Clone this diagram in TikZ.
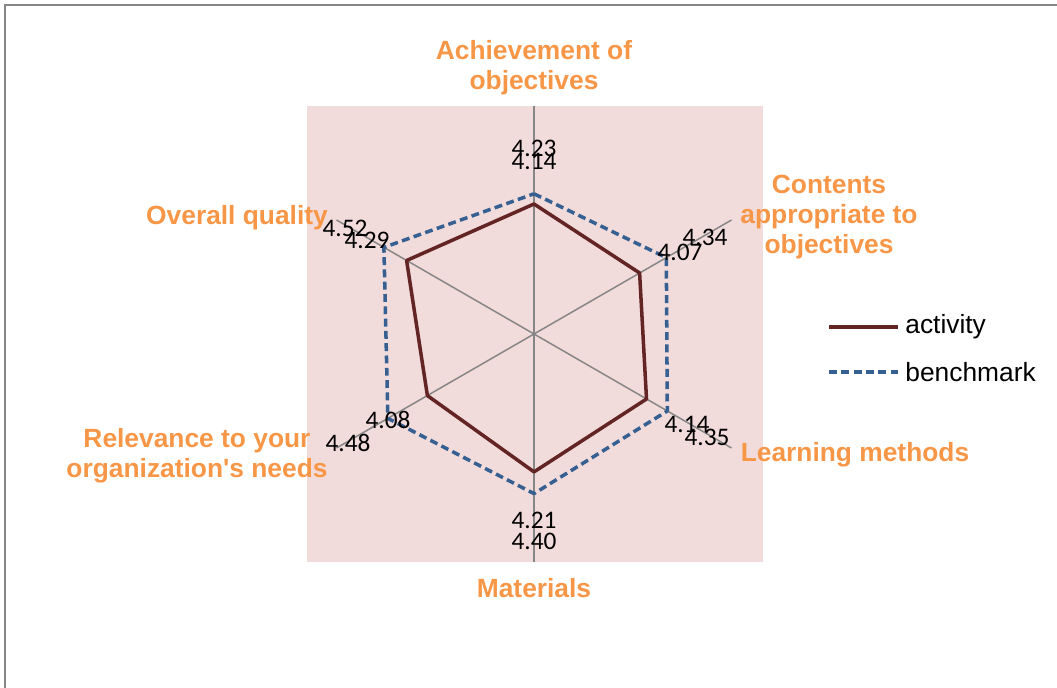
\documentclass[tikz,border=0pt]{standalone}
\usepackage{fontspec}
\setmainfont{Liberation Sans}
\newfontfamily\calibri{Carlito}
\definecolor{axisgray}{HTML}{868686}
\definecolor{plotpink}{HTML}{F2DCDB}
\definecolor{catorange}{HTML}{F79646}
\definecolor{actred}{HTML}{632523}
\definecolor{benchblue}{HTML}{376092}
\begin{document}
\begin{tikzpicture}[x=0.02cm, y=0.02cm,
	cat/.style={font=\bfseries\fontsize{15}{17}\selectfont, text=catorange, align=center},
	val/.style={font=\calibri\fontsize{14.4}{16}\selectfont},
	leg/.style={font=\fontsize{15}{17}\selectfont, anchor=west},
	axis/.style={axisgray, line width=0.85pt},
	actline/.style={actred, line width=2pt, line join=round},
	benchline/.style={benchblue, line width=2pt, line join=round, dash pattern=on 4.5pt off 2.5pt}]
		\tikzstyle{every node}+=[inner sep=0pt]
		\useasboundingbox (0,0) rectangle (1057,-688);
		\draw [axisgray, line width=1.2pt] (5,-720) -- (5,-5) -- (1080,-5);
		\fill [plotpink] (307,-106) rectangle (763,-562);
		% axes
		\coordinate (c) at (534,-334);
		\coordinate (ax1) at (534,-106);
		\coordinate (ax2) at (731.5,-220);
		\coordinate (ax3) at (731.5,-448);
		\coordinate (ax4) at (534,-562);
		\coordinate (ax5) at (336.5,-448);
		\coordinate (ax6) at (336.5,-220);
		\draw [axis] (c) -- (ax1);
		\draw [axis] (c) -- (ax2);
		\draw [axis] (c) -- (ax3);
		\draw [axis] (c) -- (ax4);
		\draw [axis] (c) -- (ax5);
		\draw [axis] (c) -- (ax6);
		% activity
		\coordinate (a1) at (534,-204);
		\coordinate (a2) at (639.6,-273);
		\coordinate (a3) at (646.5,-399);
		\coordinate (a4) at (534,-471.9);
		\coordinate (a5) at (427.4,-395.6);
		\coordinate (a6) at (406.6,-260.5);
		\draw [actline] (a1) -- (a2) -- (a3) -- (a4) -- (a5) -- (a6) -- cycle;
		% benchmark
		\coordinate (b1) at (534,-193.8);
		\coordinate (b2) at (666.3,-257.6);
		\coordinate (b3) at (667.3,-411);
		\coordinate (b4) at (534,-493.6);
		\coordinate (b5) at (387.9,-418.4);
		\coordinate (b6) at (383.9,-247.4);
		\draw [benchline] (b1) -- (b2) -- (b3) -- (b4) -- (b5) -- (b6) -- cycle;
		% values
		\node [val] (vb1) at (534,-148) {4.23};
		\node [val] (va1) at (534,-161) {4.14};
		\node [val] (vb2) at (705,-237) {4.34};
		\node [val] (va2) at (680,-252) {4.07};
		\node [val] (va3) at (687,-424) {4.14};
		\node [val] (vb3) at (707,-437) {4.35};
		\node [val] (va4) at (534,-520) {4.21};
		\node [val] (vb4) at (534,-541) {4.40};
		\node [val] (va5) at (388,-420) {4.08};
		\node [val] (vb5) at (348,-443) {4.48};
		\node [val] (vb6) at (345,-228) {4.52};
		\node [val] (va6) at (367,-240) {4.29};
		% categories
		\node [cat] (cat1) at (534,-68) {Achievement of\\objectives};
		\node [cat] (cat2) at (829,-217) {Contents\\appropriate to\\objectives};
		\node [cat] (cat3) at (855,-455) {Learning methods};
		\node [cat] (cat4) at (534,-588) {Materials};
		\node [cat] (cat5) at (197,-456) {Relevance to your\\organization\textquotesingle s needs};
		\node [cat] (cat6) at (237,-218) {Overall quality};
		% legend
		\coordinate (la1) at (829,-327);
		\coordinate (la2) at (898,-327);
		\draw [actline] (la1) -- (la2);
		\node [leg] (lact) at (905,-327) {activity};
		\coordinate (lb1) at (829,-372);
		\coordinate (lb2) at (898,-372);
		\draw [benchline] (lb1) -- (lb2);
		\node [leg] (lbench) at (905,-372) {benchmark};
	\end{tikzpicture}
\end{document}
